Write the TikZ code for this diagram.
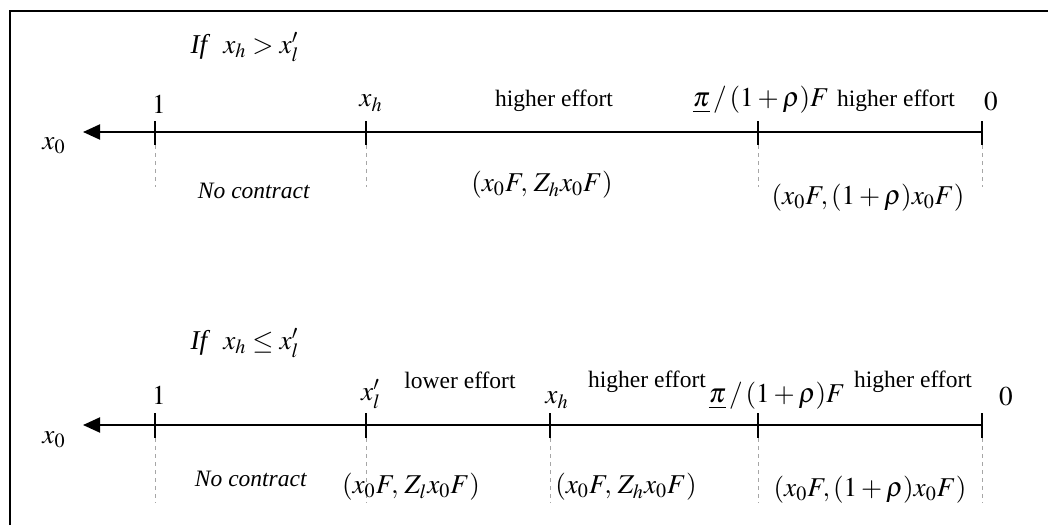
\documentclass[tikz,border=0pt]{standalone}
\usepackage{mathptmx}
\usepackage{fontspec}
\setmainfont{Liberation Serif}
\usetikzlibrary{arrows.meta}
\begin{document}
\begin{tikzpicture}[x=0.5pt,y=-0.5pt,
  every node/.style={inner sep=0pt,font=\fontsize{11.75}{14}\selectfont},
  mathlbl/.style={font=\fontsize{13.6}{16}\selectfont},
  digitlbl/.style={font=\fontsize{13.6}{16}\selectfont},
  axisline/.style={line width=1pt,-{Triangle[length=8.5pt,width=7.5pt]}},
  tickmark/.style={line width=0.9pt},
  guide/.style={black!35,line width=0.4pt,dash pattern=on 2pt off 2pt},
  frameline/.style={line width=1pt}]
\useasboundingbox (0,0) rectangle (1048,525);
\draw[frameline] (10,525) -- (10,11) -- (1048,11);

% ---------- top case ----------
\coordinate (Atip) at (83,132);
\coordinate (A1) at (155,132);
\coordinate (A2) at (366,132);
\coordinate (A3) at (758,132);
\coordinate (A4) at (982,132);
\draw[axisline] (A4) -- (Atip);
\foreach \c in {A1,A2,A3,A4}{
  \draw[tickmark] (\c) ++(0,-11) -- ++(0,24);
  \draw[guide] (\c) ++(0,13) -- ++(0,42);
}
\node[mathlbl] (ifA) at (245,47) {\textit{If} $\;x_h > x_l^{\prime}$};
\node[digitlbl] (oneA) at (159,104) {$1$};
\node[mathlbl] (xhA) at (371,103) {$x_h$};
\node (heA) at (554,101) {higher effort};
\node[mathlbl] (piA) at (761,100) {$\underline{\pi}\,/\,(1+\rho)F$};
\node (he2A) at (896,101) {higher effort};
\node[digitlbl] (zeroA) at (991,102) {$0$};
\node[mathlbl] (x0A) at (54,146) {$x_0$};
\node (ncA) at (254,191) {\textit{No contract}};
\node[mathlbl] (pA1) at (542,185) {$(x_0F,\,Z_h x_0F)$};
\node[mathlbl] (pA2) at (868,198) {$(x_0F,(1+\rho)x_0F)$};

% ---------- bottom case ----------
\coordinate (Btip) at (83,425);
\coordinate (B1) at (155,425);
\coordinate (B2) at (366,425);
\coordinate (B3) at (550,425);
\coordinate (B4) at (758,425);
\coordinate (B5) at (982,425);
\draw[axisline] (B5) -- (Btip);
\foreach \c in {B1,B2,B3,B4,B5}{
  \draw[tickmark] (\c) ++(0,-12) -- ++(0,25);
  \draw[guide] (\c) ++(0,13) -- ++(0,65);
}
\node[mathlbl] (ifB) at (245,343) {\textit{If} $\;x_h \le x_l^{\prime}$};
\node[digitlbl] (oneB) at (159,395) {$1$};
\node[mathlbl] (xlB) at (371,394) {$x_l^{\prime}$};
\node (leB) at (460,380) {lower effort};
\node[mathlbl] (xhB) at (557,400) {$x_h$};
\node (heB) at (647,382) {higher effort};
\node[mathlbl] (piB) at (777,396) {$\underline{\pi}\,/\,(1+\rho)F$};
\node (he2B) at (913,382) {higher effort};
\node[digitlbl] (zeroB) at (1006,397) {$0$};
\node[mathlbl] (x0B) at (54,440) {$x_0$};
\node (ncB) at (251,479) {\textit{No contract}};
\node[mathlbl] (pB1) at (411,487) {$(x_0F,\,Z_l x_0F)$};
\node[mathlbl] (pB2) at (626,487) {$(x_0F,\,Z_h x_0F)$};
\node[mathlbl] (pB3) at (870,490) {$(x_0F,(1+\rho)x_0F)$};
\end{tikzpicture}
\end{document}
